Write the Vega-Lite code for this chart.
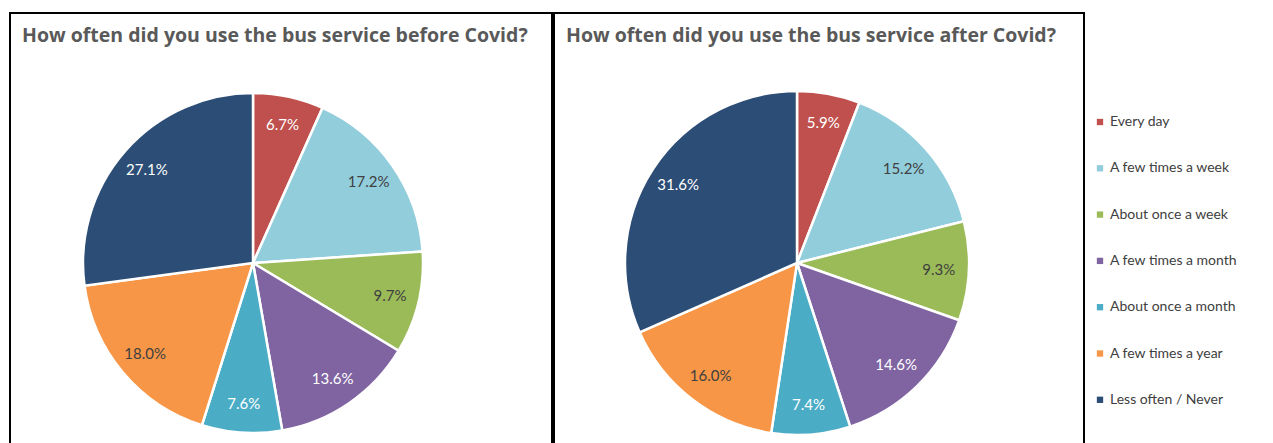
{
  "$schema": "https://vega.github.io/schema/vega-lite/v6.json",
  "padding": {"left": 9, "top": 12, "right": 0, "bottom": 0},
  "background": "white",
  "datasets": {
    "survey": [
      {"period": "before", "freq": "Every day", "ord": 1, "share": 0.067},
      {"period": "before", "freq": "A few times a week", "ord": 2, "share": 0.172},
      {"period": "before", "freq": "About once a week", "ord": 3, "share": 0.097},
      {"period": "before", "freq": "A few times a month", "ord": 4, "share": 0.136},
      {"period": "before", "freq": "About once a month", "ord": 5, "share": 0.076},
      {"period": "before", "freq": "A few times a year", "ord": 6, "share": 0.180},
      {"period": "before", "freq": "Less often / Never", "ord": 7, "share": 0.271},
      {"period": "after", "freq": "Every day", "ord": 1, "share": 0.059},
      {"period": "after", "freq": "A few times a week", "ord": 2, "share": 0.152},
      {"period": "after", "freq": "About once a week", "ord": 3, "share": 0.093},
      {"period": "after", "freq": "A few times a month", "ord": 4, "share": 0.146},
      {"period": "after", "freq": "About once a month", "ord": 5, "share": 0.074},
      {"period": "after", "freq": "A few times a year", "ord": 6, "share": 0.160},
      {"period": "after", "freq": "Less often / Never", "ord": 7, "share": 0.316}
    ]
  },
  "config": {
    "view": {"stroke": "black", "strokeWidth": 2},
    "title": {"anchor": "start", "fontSize": 19.5, "color": "#595959", "font": "Open Sans", "fontWeight": "bold", "offset": -33, "dx": 12},
    "legend": {
      "orient": "none", "legendX": 1083, "legendY": 102,
      "symbolType": "square", "symbolSize": 40, "symbolStrokeWidth": 0,
      "labelFontSize": 14, "labelColor": "#404040", "labelFont": "Lato",
      "rowPadding": 32.3, "labelOffset": 3
    }
  },
  "hconcat": [
    {
      "width": 542, "height": 445,
      "view": {"stroke": "black", "strokeWidth": 2},
      "title": "How often did you use the bus service before Covid?",
      "data": {"name": "survey"},
      "transform": [{"filter": "datum.period === 'before'"}],
      "encoding": {
        "theta": {"field": "share", "type": "quantitative", "stack": true},
        "order": {"field": "ord", "type": "quantitative"}
      },
      "layer": [
        {
          "mark": {"type": "arc", "outerRadius": 170, "x": 243, "y": 250, "stroke": "white", "strokeWidth": 2.5},
          "encoding": {
            "color": {"field": "freq", "type": "nominal", "title": null,
              "scale": {"domain": ["Every day", "A few times a week", "About once a week", "A few times a month", "About once a month", "A few times a year", "Less often / Never"],
                "range": ["#C0504D", "#92CDDC", "#9BBB59", "#8064A2", "#4BACC6", "#F79646", "#2C4D75"]}}
          }
        },
        {
          "mark": {"type": "text", "radius": 141, "x": 243, "y": 250, "fontSize": 15, "font": "Lato"},
          "encoding": {
            "text": {"field": "share", "type": "quantitative", "format": ".1%"},
            "color": {"condition": {"test": "indexof(['A few times a week','About once a week','A few times a year'], datum.freq) >= 0", "value": "#404040"}, "value": "white"}
          }
        }
      ]
    },
    {
      "width": 530, "height": 445,
      "view": {"stroke": "black", "strokeWidth": 2},
      "title": "How often did you use the bus service after Covid?",
      "data": {"name": "survey"},
      "transform": [{"filter": "datum.period === 'after'"}],
      "encoding": {
        "theta": {"field": "share", "type": "quantitative", "stack": true},
        "order": {"field": "ord", "type": "quantitative"}
      },
      "layer": [
        {
          "mark": {"type": "arc", "outerRadius": 172, "x": 243, "y": 250, "stroke": "white", "strokeWidth": 2.5},
          "encoding": {
            "color": {"field": "freq", "type": "nominal", "title": null}
          }
        },
        {
          "mark": {"type": "text", "radius": 142, "x": 243, "y": 250, "fontSize": 15, "font": "Lato"},
          "encoding": {
            "text": {"field": "share", "type": "quantitative", "format": ".1%"},
            "color": {"condition": {"test": "indexof(['A few times a week','About once a week','A few times a year'], datum.freq) >= 0", "value": "#404040"}, "value": "white"}
          }
        }
      ]
    }
  ],
  "spacing": 0
}
